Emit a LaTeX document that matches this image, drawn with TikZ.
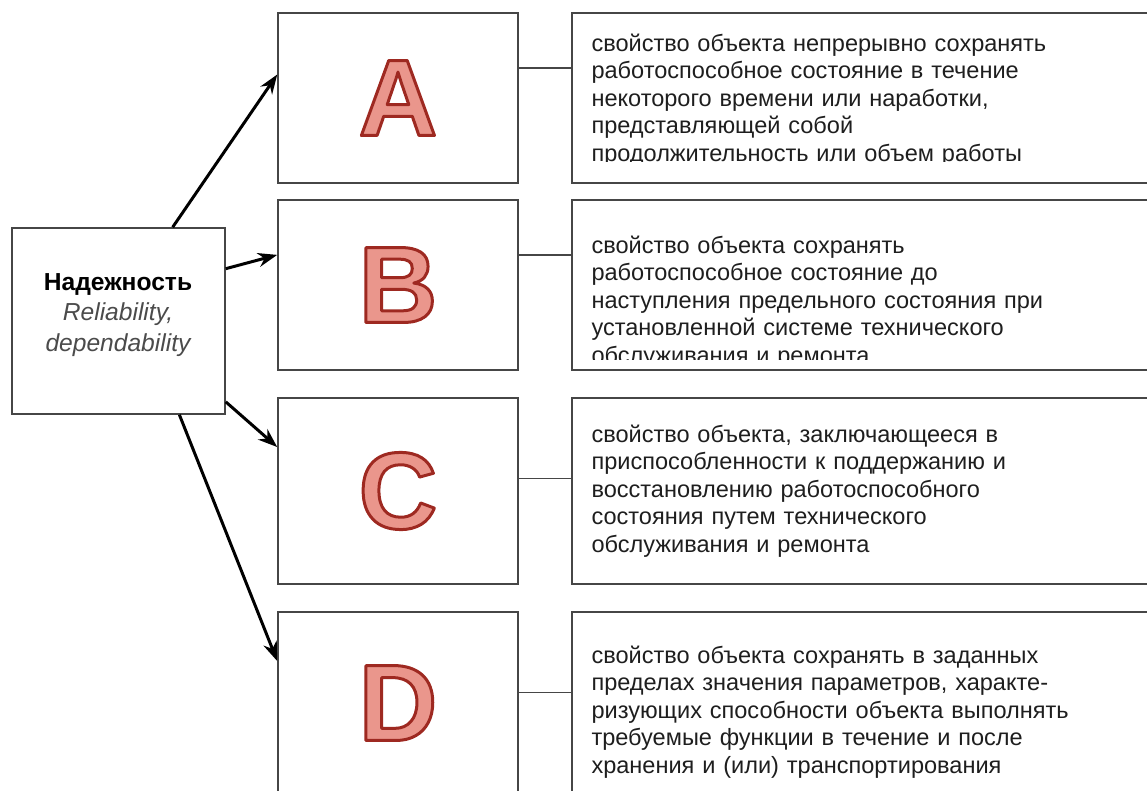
\documentclass[tikz,border=0pt]{standalone}
\usepackage{fontspec}
\setmainfont{Liberation Sans}
\usetikzlibrary{arrows.meta,positioning}

\definecolor{letterfill}{RGB}{234,150,140}
\definecolor{boxline}{RGB}{70,70,70}
\definecolor{bodytext}{RGB}{30,30,30}

% filled letter with a dark red outline (text render mode 2)
\newcommand{\bigletter}[1]{{\color{letterfill}%
  \special{pdf:literal direct 0.62 0.16 0.13 RG 1.7 w 1 j 2 Tr}#1%
  \special{pdf:literal direct 0 Tr}}}

\begin{document}
\begin{tikzpicture}[x=0.02cm,y=-0.02cm,>={Stealth[length=11pt,width=8pt]},node distance=9.36cm]
\tikzstyle{cell}=[draw=boxline,line width=0.9pt,inner sep=0pt]
\tikzstyle{letterbox}=[cell,minimum width=4.8cm,font=\fontsize{62pt}{62pt}\selectfont\bfseries]
\tikzstyle{textbox}=[cell,minimum width=11.76cm]
\tikzstyle{desc}=[inner sep=0pt,text width=11.2cm,align=left,text=bodytext,font=\fontsize{13.4pt}{15.7pt}\selectfont]
\tikzstyle{link}=[->,line width=1.7pt]

  \path[use as bounding box,clip] (0,0) rectangle (1147,791);

  % left box
  \node[cell,minimum width=4.26cm,minimum height=3.72cm]   (L) at (118.5,321) {};
  \node[align=center,inner sep=0pt,font=\fontsize{14pt}{17.4pt}\selectfont] (Lt) at (118,315)
        {\textbf{Надежность}\\ \textcolor{bodytext!80!white}{\itshape Reliability,}\\
         \textcolor{bodytext!80!white}{\itshape dependability}};

  % letter boxes
  \node[letterbox,minimum height=3.4cm]   (A) at (398,98)  {\raisebox{-0.1cm}{\bigletter{A}}};
  \node[letterbox,minimum height=3.4cm]   (B) at (398,285) {\bigletter{B}};
  \node[letterbox,minimum height=3.72cm]  (C) at (398,491) {\bigletter{C}};
  \node[letterbox,minimum height=3.72cm]  (D) at (398,705) {\raisebox{0.08cm}{\bigletter{D}}};

  % description boxes
  \node[textbox,minimum height=3.4cm]     (tA) [right of=A] {};
  \node[textbox,minimum height=3.4cm]     (tB) [right of=B] {};
  \node[textbox,minimum height=3.72cm]    (tC) [right of=C] {};
  \node[textbox,minimum height=3.72cm]    (tD) [right of=D] {};

  \coordinate (cutA) at (0,161);
  \coordinate (cutB) at (0,359);

  \begin{scope}
    \clip (tA.north west) rectangle (tA.east |- cutA);
    \node[desc,anchor=west,xshift=0.4cm,yshift=-0.04cm] (dA) at (tA.west)
      {свойство объекта непрерывно сохранять\\
       работоспособное состояние в течение\\
       некоторого времени или наработки,\\
       представляющей собой\\
       продолжительность или объем работы};
  \end{scope}

  \begin{scope}
    \clip (tB.north west) rectangle (tB.east |- cutB);
    \node[desc,anchor=west,xshift=0.4cm,yshift=-0.34cm] (dB) at (tB.west)
      {свойство объекта сохранять\\
       работоспособное состояние до\\
       наступления предельного состояния при\\
       установленной системе технического\\
       обслуживания и ремонта};
  \end{scope}

  \node[desc,anchor=west,xshift=0.4cm] (dC) at (tC.west)
    {свойство объекта, заключающееся в\\
     приспособленности к поддержанию и\\
     восстановлению работоспособного\\
     состояния путем технического\\
     обслуживания и ремонта};

  \node[desc,anchor=west,xshift=0.4cm,yshift=-0.14cm] (dD) at (tD.west)
    {свойство объекта сохранять в заданных\\
     пределах значения параметров, характе-\\
     ризующих способности объекта выполнять\\
     требуемые функции в течение и после\\
     хранения и (или) транспортирования};

  % connectors letter -> description
  \draw[boxline,line width=0.9pt] (A.14.5) -- (A.14.5 -| tA.west);
  \draw[boxline,line width=0.9pt] (B.14.9) -- (B.14.9 -| tB.west);
  \draw[boxline,line width=0.9pt] (C.6.7)  -- (C.6.7 -| tC.west);
  \draw[boxline,line width=0.9pt] (D.6.2)  -- (D.6.2 -| tD.west);

  \path[link]
  (L.60)    edge  (A.169)
  (L.26.9)  edge  (B.166)
  (L.-37.3) edge  (C.160.3)
  (L.-57.8) edge  (D.160.7)
  ; %end path

\end{tikzpicture}
\end{document}
